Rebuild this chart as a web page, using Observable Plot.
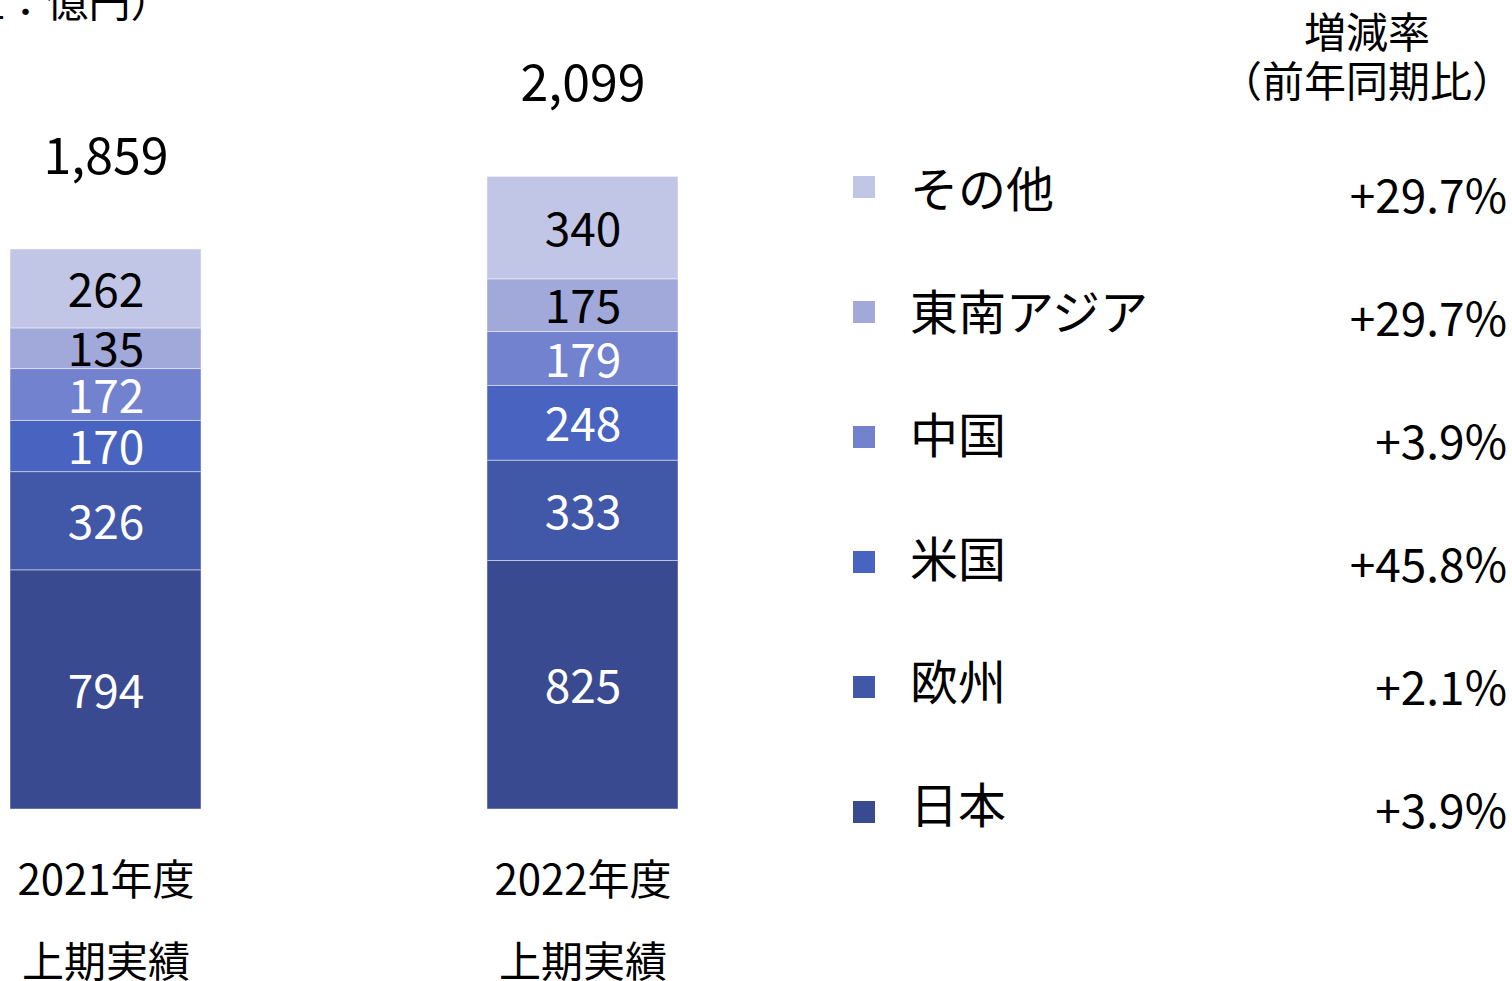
<!DOCTYPE html>
<html><head><meta charset="utf-8">
<script src="https://cdn.jsdelivr.net/npm/d3@7"></script>
<script src="https://cdn.jsdelivr.net/npm/@observablehq/plot@0.6"></script>
<style>
body{margin:0;background:#fff;font-family:"Noto Sans CJK JP",sans-serif;}
#wrap{position:relative;width:1512px;height:981px;overflow:hidden;background:#fff;}
.lg{position:absolute;white-space:nowrap;color:#000;}
.sq{position:absolute;width:22px;height:22px;}
</style></head><body><div id="wrap"></div>
<script>
const periods = ["2021年度\n上期実績", "2022年度\n上期実績"];
const regions = ["日本", "欧州", "米国", "中国", "東南アジア", "その他"]; // bottom to top
const colors = ["#3A4A90", "#4157A8", "#4863C0", "#7282CF", "#A1A8DA", "#C1C5E6"];
const values2021 = [794, 326, 170, 172, 135, 262];
const values2022 = [825, 333, 248, 179, 175, 340];
const totals = [1859, 2099];
const growth = ["+3.9%", "+2.1%", "+45.8%", "+3.9%", "+29.7%", "+29.7%"];
const darkLabelRegions = ["東南アジア", "その他"];
const unitLabel = "（単位：億円）";
const growthHeader = ["増減率", "（前年同期比）"];

const data = [];
regions.forEach((r, i) => {
  data.push({period: periods[0], region: r, value: values2021[i]});
  data.push({period: periods[1], region: r, value: values2022[i]});
});
const totalData = totals.map((t, i) => ({period: periods[i], total: t}));
const isDark = d => darkLabelRegions.includes(d.region);
const st = {x: "period", y: "value", z: "region", order: regions};

const chart = Plot.plot({
  width: 1512, height: 981,
  marginTop: 0, marginRight: 0, marginBottom: 172, marginLeft: 0,
  style: {fontFamily: '"Noto Sans CJK JP", sans-serif', color: "#000", background: "transparent", overflow: "hidden"},
  x: {domain: periods, range: [10, 678], paddingInner: 0.6, paddingOuter: 0, axis: null},
  y: {domain: [0, totals[0]], range: [809, 249], axis: null},
  color: {domain: regions, range: colors},
  marks: [
    Plot.barY(data, Plot.stackY({...st, fill: "region", stroke: "#ffffff", strokeOpacity: 0.45, strokeWidth: 1})),
    Plot.text(data, Plot.stackY({...st, text: d => isDark(d) ? String(d.value) : null, fill: "#000", fontSize: 46, dy: 3})),
    Plot.text(data, Plot.stackY({...st, text: d => isDark(d) ? null : String(d.value), fill: "#fff", fontSize: 46, dy: 3})),
    Plot.text(totalData, {x: "period", y: "total", text: d => d3.format(",")(d.total), dy: -92, fontSize: 50, fill: "#000"}),
    Plot.axisX({fontSize: 42, tickSize: 0, tickPadding: 27, lineHeight: 1.95, label: null, fill: "#000"}),
    Plot.text([unitLabel], {frameAnchor: "top-left", text: d => d, textAnchor: "start", lineAnchor: "middle", dx: -122, dy: 3, fontSize: 42, fill: "#000"})
  ]
});
const wrap = document.getElementById("wrap");
wrap.appendChild(chart);

// legend with growth rates
const lgFont = 48;
const pctFont = 46;
const display = regions.slice().reverse();
const growthDisplay = growth.slice().reverse();
display.forEach((r, i) => {
  const sq = document.createElement("div");
  sq.className = "sq";
  sq.style.background = colors[regions.indexOf(r)];
  sq.style.left = "853px";
  sq.style.top = (187 + 125 * i - 11) + "px";
  wrap.appendChild(sq);
  const lab = document.createElement("div");
  lab.className = "lg";
  lab.textContent = r;
  lab.style.fontSize = lgFont + "px";
  lab.style.lineHeight = lgFont + "px";
  lab.style.left = "910px";
  lab.style.top = (189 + 123.2 * i - 27) + "px";
  wrap.appendChild(lab);
  const pct = document.createElement("div");
  pct.className = "lg";
  pct.textContent = growthDisplay[i];
  pct.style.fontSize = pctFont + "px";
  pct.style.lineHeight = pctFont + "px";
  pct.style.right = "5px";
  pct.style.top = (195 + 123 * i - 25) + "px";
  wrap.appendChild(pct);
});
growthHeader.forEach((h, i) => {
  const d = document.createElement("div");
  d.className = "lg";
  d.textContent = h;
  d.style.fontSize = "42px";
  d.style.lineHeight = "42px";
  d.style.left = "1167px";
  d.style.width = "400px";
  d.style.textAlign = "center";
  d.style.top = ([33, 82][i] - 24) + "px";
  wrap.appendChild(d);
});
</script></body></html>
